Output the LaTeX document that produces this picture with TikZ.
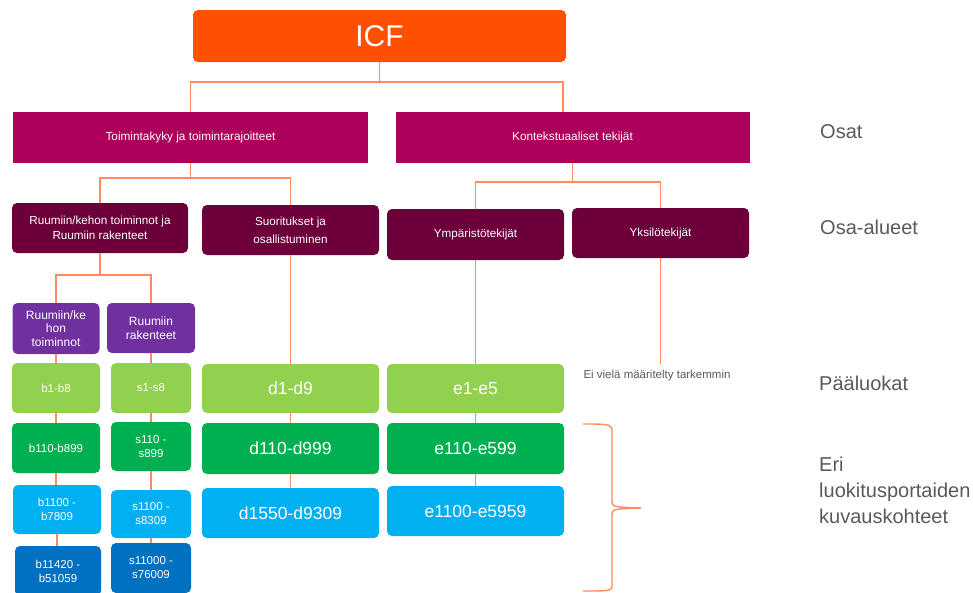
\documentclass[tikz,border=0pt]{standalone}
\usepackage{fontspec}
\setmainfont{Liberation Sans}
\usetikzlibrary{calc}

\definecolor{icforange}{RGB}{255,80,0}
\definecolor{partmag}{RGB}{172,0,92}
\definecolor{domainred}{RGB}{108,0,58}
\definecolor{subpurple}{RGB}{112,48,160}
\definecolor{lvlone}{RGB}{146,208,80}
\definecolor{lvltwo}{RGB}{0,176,80}
\definecolor{lvlthree}{RGB}{0,176,240}
\definecolor{lvlfour}{RGB}{0,112,192}
\definecolor{linkc}{RGB}{255,138,98}
\definecolor{labelgray}{RGB}{89,89,89}

\newcommand{\setsize}[2]{\fontsize{#1}{#2}\selectfont}

\tikzset{
  box/.style={rectangle, rounded corners=5pt, inner sep=0pt, align=center, text=white},
  icfbox/.style={box, fill=icforange, font=\setsize{30}{34}},
  partbox/.style={box, rounded corners=0pt, fill=partmag, font=\setsize{11.8}{14}},
  domainbox/.style={box, fill=domainred, font=\setsize{11.7}{15}},
  subbox/.style={box, fill=subpurple, font=\setsize{12}{13.5}},
  smallcode/.style={box, font=\setsize{11.5}{14}},
  bigcode/.style={box, font=\setsize{17.5}{20}},
  conn/.style={draw=linkc, line width=1.5pt},
  sidelabel/.style={anchor=west, inner sep=0pt, align=left, text=labelgray, font=\setsize{20}{26}},
}

\begin{document}
\begin{tikzpicture}[x=1pt,y=-1pt]
\useasboundingbox (0,0) rectangle (973,592);

% top of the classification
\node[icfbox, minimum width=373, minimum height=52] (icf) at (379.5,36) {ICF};

% parts
\node[partbox, minimum width=355, minimum height=51] (osat1) at (190.5,137.5) {Toimintakyky ja toimintarajoitteet};
\node[partbox, minimum width=354, minimum height=51] (osat2) at (572.5,137.5) {Kontekstuaaliset tekijät};

% domains
\node[domainbox, minimum width=176, minimum height=50] (ruum) at (100,228) {Ruumiin/kehon toiminnot ja\\Ruumiin rakenteet};
\node[domainbox, minimum width=177, minimum height=50, font=\setsize{11.7}{18}] (suor) at (290.5,230) {Suoritukset ja\\osallistuminen};
\node[domainbox, minimum width=177, minimum height=51] (ymp) at (475.5,234.5) {Ympäristötekijät};
\node[domainbox, minimum width=177, minimum height=50] (yks) at (660.5,233) {Yksilötekijät};

% body functions / structures
\node[subbox, minimum width=87, minimum height=51] (rk) at (56,328.5) {Ruumiin/ke\\hon\\toiminnot};
\node[subbox, minimum width=88, minimum height=50] (rr) at (151,328) {Ruumiin\\rakenteet};

% b codes
\node[smallcode, fill=lvlone, minimum width=88, minimum height=50] (b1) at (56,388) {b1-b8};
\node[smallcode, fill=lvltwo, minimum width=88, minimum height=50] (b2) at (56,448) {b110-b899};
\node[smallcode, fill=lvlthree, minimum width=88, minimum height=49] (b3) at (57,509.5) {b1100 -\\b7809};
\node[smallcode, fill=lvlfour, minimum width=86, minimum height=50] (b4) at (58,571) {b11420 -\\b51059};

% s codes
\node[smallcode, fill=lvlone, minimum width=80, minimum height=50] (s1) at (151,388) {s1-s8};
\node[smallcode, fill=lvltwo, minimum width=80, minimum height=49] (s2) at (151,446.5) {s110 -\\s899};
\node[smallcode, fill=lvlthree, minimum width=80, minimum height=48] (s3) at (151,514) {s1100 -\\s8309};
\node[smallcode, fill=lvlfour, minimum width=80, minimum height=50] (s4) at (151,568) {s11000 -\\s76009};

% d codes
\node[bigcode, fill=lvlone, minimum width=177, minimum height=49] (d1) at (290.5,388.5) {d1-d9};
\node[bigcode, fill=lvltwo, minimum width=177, minimum height=51] (d2) at (290.5,448.5) {d110-d999};
\node[bigcode, fill=lvlthree, minimum width=177, minimum height=50] (d3) at (290.5,513) {d1550-d9309};

% e codes
\node[bigcode, fill=lvlone, minimum width=177, minimum height=49] (e1) at (475.5,388.5) {e1-e5};
\node[bigcode, fill=lvltwo, minimum width=177, minimum height=51] (e2) at (475.5,448.5) {e110-e599};
\node[bigcode, fill=lvlthree, minimum width=177, minimum height=50] (e3) at (475.5,511) {e1100-e5959};

% personal factors: not yet specified
\coordinate (yksend) at (660.5,364);
\node[text=labelgray, font=\setsize{11.5}{13}, inner sep=0pt] (note) at (657,376) {Ei vielä määritelty tarkemmin};

% connectors
\draw[conn] (icf.south) -- ++(0,20) coordinate (bus0);
\draw[conn] (osat1.north) |- (bus0) -| ([xshift=-3pt]icf.south east |- osat2.north);

\draw[conn] (osat1.south) -- ++(0,15) coordinate (busA);
\draw[conn] (ruum.north) |- (busA) -| (suor.north);

\draw[conn] (osat2.south) -- ++(0,19) coordinate (busB);
\draw[conn] (ymp.north) |- (busB) -| (yks.north);

\draw[conn] (ruum.south) -- ++(0,22) coordinate (busC);
\draw[conn] (rk.north) |- (busC) -| (rr.north);

\draw[conn] (rk.south) -- (b1.north);
\draw[conn] (b1.south) -- (b2.north);
\draw[conn] (b2.south) -- (b2.south |- b3.north);
\draw[conn] (b3.south) -- (b3.south |- b4.north);

\draw[conn] (rr.south) -- (s1.north);
\draw[conn] (s1.south) -- (s2.north);
\draw[conn] (s2.south) -- (s3.north);
\draw[conn] (s3.south) -- (s4.north);

\draw[conn] (suor.south) -- (d1.north);
\draw[conn] (d1.south) -- (d2.north);
\draw[conn] (d2.south) -- (d3.north);

\draw[conn] (ymp.south) -- (e1.north);
\draw[conn] (e1.south) -- (e2.north);
\draw[conn] (e2.south) -- (e3.north);

\draw[conn] (yks.south) -- (yksend);

% brace over the detailed levels
\draw[draw=linkc, line width=1.4pt, line join=round]
  (583,424) .. controls (612,424) .. (612,434) -- (612,500)
  .. controls (612,507) .. (641,508)
  .. controls (612,509) .. (612,516) -- (612,584)
  .. controls (612,591) .. (583,591);

% level labels
\node[sidelabel] (lblparts) at (820,132) {Osat};
\node[sidelabel] (lbldomains) at (820,227) {Osa-alueet};
\node[sidelabel] (lblchapters) at (819,383) {Pääluokat};
\node[sidelabel] (lbllevels) at (819,490) {Eri\\luokitusportaiden\\kuvauskohteet};
\end{tikzpicture}
\end{document}
